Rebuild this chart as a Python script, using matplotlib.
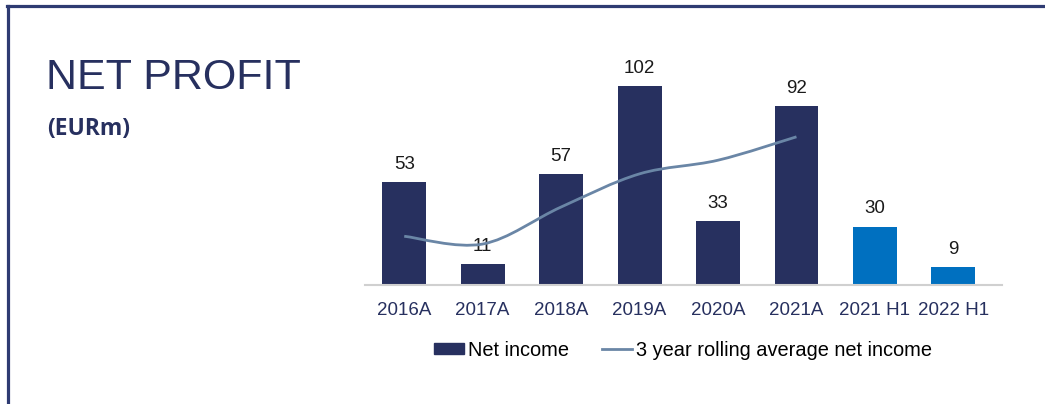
import numpy as np
import matplotlib
matplotlib.use("Agg")
import matplotlib.pyplot as plt
from matplotlib.path import Path
from matplotlib.patches import PathPatch, Patch
from matplotlib.lines import Line2D

plt.rcParams['font.family'] = ['Liberation Sans', 'DejaVu Sans']

categories = ['2016A', '2017A', '2018A', '2019A', '2020A', '2021A', '2021 H1', '2022 H1']
net_income = [53, 11, 57, 102, 33, 92, 30, 9]
rolling_avg = [25, 21, 40, 57, 64, 76]   # 2016A .. 2021A only

navy = '#27305f'
blue = '#0070c0'
line_col = '#6a86a6'
frame_col = '#2e3b72'

fig = plt.figure(figsize=(10.45, 4.04), dpi=100)
W, H = 1045, 404

# border lines along top and left
fig.add_artist(Line2D([7 / W, 1], [1 - 6 / H, 1 - 6 / H], color=frame_col, lw=2.3,
                      transform=fig.transFigure))
fig.add_artist(Line2D([8 / W, 8 / W], [0, 1 - 6 / H], color=frame_col, lw=2.3,
                      transform=fig.transFigure))

fig.text(46 / W, 1 - 89 / H, 'NET PROFIT', family=['Liberation Sans Narrow', 'Liberation Sans'],
         fontsize=31, color=navy, ha='left', va='baseline')
fig.text(47 / W, 1 - 135 / H, '(EURm)', family=['Open Sans', 'DejaVu Sans'], fontweight='bold',
         fontsize=16.5, color=navy, ha='left', va='baseline')

ax = fig.add_axes([365 / W, (H - 285) / H, 637 / W, 234 / H])
x = np.arange(len(categories))
colors = [navy] * 6 + [blue] * 2
bars = ax.bar(x, net_income, width=0.56, color=colors, zorder=2)

for xi, v in zip(x, net_income):
    ax.annotate(str(v), (xi, v), xytext=(0, 6.5), textcoords='offset points',
                ha='center', va='bottom', fontsize=13.5, color='#1a1a1a')

# smoothed rolling average line (cubic bezier through the points)
pts = np.column_stack([x[:len(rolling_avg)], rolling_avg]).astype(float)
verts = [pts[0]]
codes = [Path.MOVETO]
n = len(pts)
for i in range(n - 1):
    p0 = pts[max(i - 1, 0)]
    p1 = pts[i]
    p2 = pts[i + 1]
    p3 = pts[min(i + 2, n - 1)]
    c1 = p1 + (p2 - p0) / 6
    c2 = p2 - (p3 - p1) / 6
    verts += [c1, c2, p2]
    codes += [Path.CURVE4] * 3
ax.add_patch(PathPatch(Path(verts, codes), fill=False, edgecolor=line_col, lw=2, zorder=3))

ax.set_xlim(-0.5, 7.62)
ax.set_ylim(0, 120)
ax.set_xticks(x)
ax.set_xticklabels(categories, fontsize=13.5, color=navy)
ax.tick_params(axis='x', length=0, pad=12)
ax.set_yticks([])
for s in ['top', 'right', 'left']:
    ax.spines[s].set_visible(False)
ax.spines['bottom'].set_color('#d0d0d0')
ax.spines['bottom'].set_linewidth(1.5)

handles = [Patch(color=navy), Line2D([], [], color=line_col, lw=2)]
fig.legend(handles, ['Net income', '3 year rolling average net income'],
           loc='center', bbox_to_anchor=(683 / W, 1 - 350 / H), ncol=2, frameon=False,
           fontsize=14.4, handlelength=1.5, handleheight=0.45, handletextpad=0.25,
           columnspacing=1.6)

fig.savefig('out.png', dpi=100)
